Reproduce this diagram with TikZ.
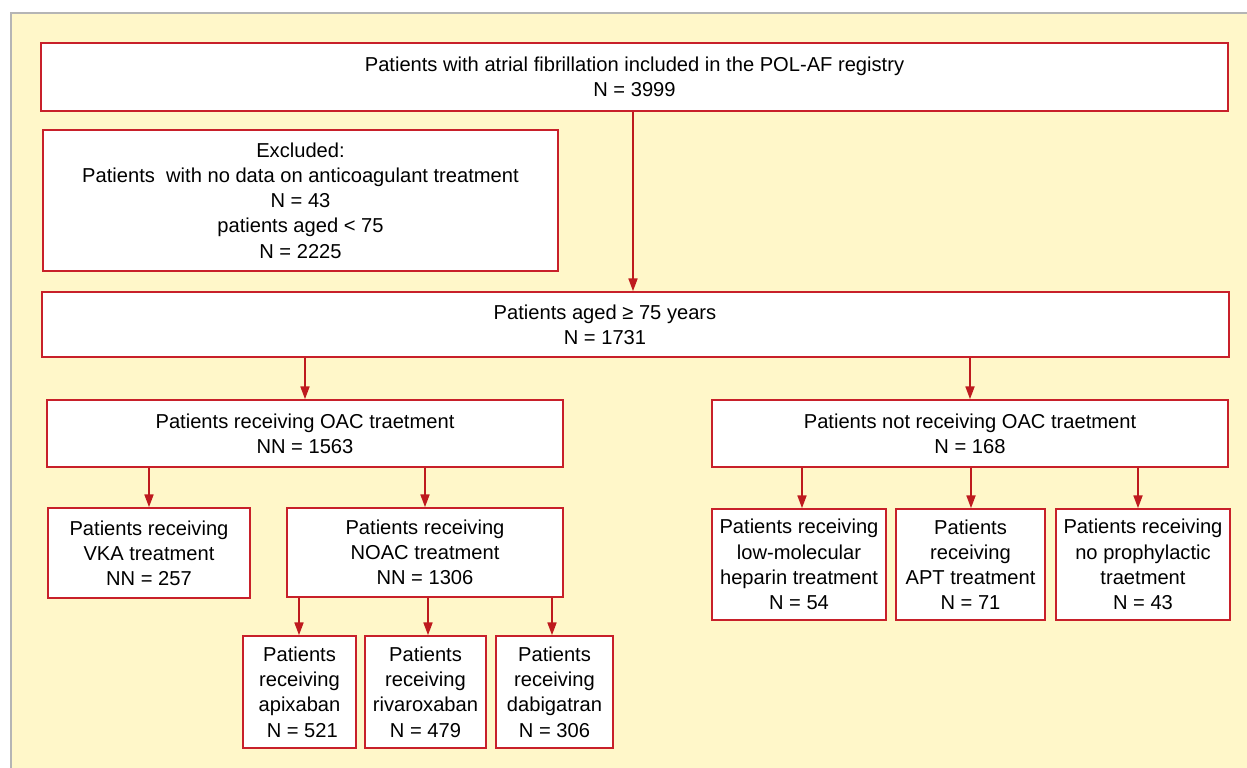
\documentclass[tikz,border=0pt]{standalone}
\usepackage{fontspec}
\setmainfont{Liberation Sans}
\usetikzlibrary{arrows.meta}
\definecolor{bgyel}{HTML}{FFF7C9}
\definecolor{boxred}{HTML}{C8202A}
\definecolor{arrred}{HTML}{BE1A1E}
\definecolor{framegrey}{HTML}{B5B5B5}
\tikzset{
  box/.style={draw=boxred, line width=1.3pt, fill=white, inner sep=0pt, align=center,
    font=\fontsize{15.1}{18.9}\selectfont},
  bx/.style 2 args={minimum width=#1*0.75pt, minimum height=#2*0.75pt},
  arr/.style={draw=arrred, line width=1.1pt, -{Triangle[length=9.5pt,width=6.8pt]}}
}
\begin{document}
\begin{tikzpicture}[x=0.75pt,y=-0.75pt]
\useasboundingbox (0,0) rectangle (1247,768);
\fill[white] (0,0) rectangle (1247,768);
\fill[bgyel] (11,13) rectangle (1247,768);
\draw[framegrey, line width=1.6pt] (11,768) -- (11,13) -- (1247,13);

\node[box, bx={1187}{68}] (top) at (634.5,77) {Patients with atrial fibrillation included in the POL-AF registry\\N = 3999};
\node[box, bx={515}{141}] (excl) at (300.5,200.5) {Excluded:\\Patients\ \ with no data on anticoagulant treatment\\N = 43\\patients aged < 75\\N = 2225};
\node[box, bx={1187}{65}] (aged) at (635.5,324.5) {\hspace*{-45.75pt}Patients aged ≥ 75 years\\\hspace*{-45.75pt}N = 1731};
\node[box, bx={516}{67}] (oac) at (305,433.5) {Patients receiving OAC traetment\\NN = 1563};
\node[box, bx={516}{67}] (noac0) at (970,433.5) {Patients not receiving OAC traetment\\N = 168};
\node[box, bx={202}{90}] (vka) at (149,553) {Patients receiving\\VKA treatment\\NN = 257};
\node[box, bx={276}{89}] (noac) at (425,552.5) {Patients receiving\\NOAC treatment\\NN = 1306};
\node[box, bx={113}{112}] (apix) at (299.5,692) {Patients\\receiving\\apixaban\\\ N = 521};
\node[box, bx={121}{112}] (riva) at (425.5,692) {Patients\\receiving\\rivaroxaban\\N = 479};
\node[box, bx={117}{112}] (dabi) at (554.5,692) {Patients\\receiving\\dabigatran\\N = 306};
\node[box, bx={174}{111}] (lmwh) at (799,564.5) {Patients receiving\\low-molecular\\heparin treatment\\N = 54};
\node[box, bx={149}{111}] (apt) at (970.5,564.5) {Patients\\receiving\\APT treatment\\N = 71};
\node[box, bx={174}{111}] (none) at (1143,564.5) {Patients receiving\\no prophylactic\\traetment\\N = 43};

\coordinate (x1) at (633,0);
\coordinate (x2) at (305,0);
\coordinate (x3) at (970,0);
\coordinate (x4) at (149,0);
\coordinate (x5) at (425,0);
\coordinate (x6) at (299,0);
\coordinate (x7) at (428,0);
\coordinate (x8) at (552,0);
\coordinate (x9) at (802,0);
\coordinate (x10) at (971,0);
\coordinate (x11) at (1138,0);

\draw[arr] (top.south -| x1) -- (aged.north -| x1);
\draw[arr] (aged.south -| x2) -- (oac.north -| x2);
\draw[arr] (aged.south -| x3) -- (noac0.north -| x3);
\draw[arr] (oac.south -| x4) -- (vka.north -| x4);
\draw[arr] (oac.south -| x5) -- (noac.north -| x5);
\draw[arr] (noac.south -| x6) -- (apix.north -| x6);
\draw[arr] (noac.south -| x7) -- (riva.north -| x7);
\draw[arr] (noac.south -| x8) -- (dabi.north -| x8);
\draw[arr] (noac0.south -| x9) -- (lmwh.north -| x9);
\draw[arr] (noac0.south -| x10) -- (apt.north -| x10);
\draw[arr] (noac0.south -| x11) -- (none.north -| x11);
\end{tikzpicture}
\end{document}
